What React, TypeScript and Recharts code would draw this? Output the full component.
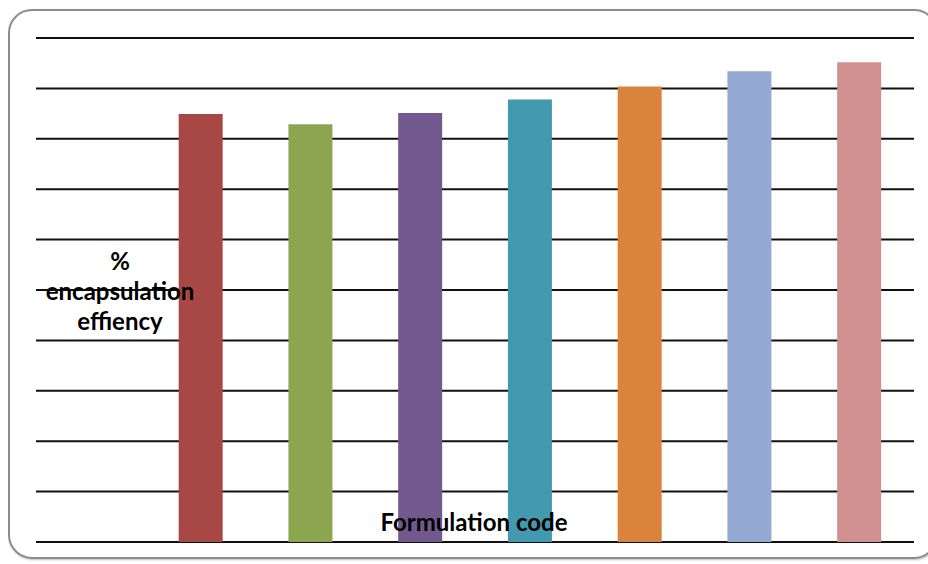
import { BarChart, Bar, Cell, CartesianGrid, XAxis, YAxis } from "recharts";

const codes = ["", "F1", "F2", "F3", "F4", "F5", "F6", "F7"];
const efficiency: (number | null)[] = [null, 84.9, 82.9, 85.1, 87.8, 90.4, 93.4, 95.2];
const barColors = ["#ffffff", "#A84845", "#8BA64F", "#71598E", "#4299B0", "#DA833D", "#93A9D1", "#D19090"];
const yTicks = [0, 10, 20, 30, 40, 50, 60, 70, 80, 90, 100];

const data = codes.map((code, i) => ({ code, value: efficiency[i] }));

const labelFont = "Lato, 'Open Sans', sans-serif";

export default function App() {
  return (
    <div
      style={{
        position: "absolute",
        left: 0,
        top: 0,
        width: 928,
        height: 564,
        background: "#fff",
        overflow: "hidden",
      }}
    >
      <div
        style={{
          position: "absolute",
          left: 8,
          top: 9,
          width: 930,
          height: 550,
          border: "2px solid #8c8c8c",
          borderRadius: 24,
          boxSizing: "border-box",
          boxShadow: "1px 1px 2px rgba(0,0,0,0.25)",
        }}
      />
      <div style={{ position: "absolute", left: 0, top: 0 }}>
        <BarChart
          width={928}
          height={564}
          data={data}
          margin={{ top: 38, right: 14, bottom: 22, left: 36 }}
          barCategoryGap="30%"
        >
          <CartesianGrid vertical={false} stroke="#111" strokeWidth={2} />
          <XAxis dataKey="code" hide />
          <YAxis
            domain={[0, 100]}
            ticks={yTicks}
            interval={0}
            width={0}
            tick={{ fill: "transparent", fontSize: 1 }}
            tickLine={false}
            axisLine={false}
          />
          <Bar dataKey="value" isAnimationActive={false}>
            {data.map((d, i) => (
              <Cell key={d.code + i} fill={barColors[i]} />
            ))}
          </Bar>
        </BarChart>
      </div>
      <div
        style={{
          position: "absolute",
          left: 20,
          top: 246,
          width: 200,
          textAlign: "center",
          fontFamily: labelFont,
          fontWeight: 700,
          fontSize: 24,
          lineHeight: "30px",
          color: "#000",
        }}
      >
        %<br />
        encapsulation
        <br />
        effiency
      </div>
      <div
        style={{
          position: "absolute",
          left: 324,
          top: 507,
          width: 300,
          textAlign: "center",
          fontFamily: labelFont,
          fontWeight: 700,
          fontSize: 24,
          lineHeight: "30px",
          color: "#000",
        }}
      >
        Formulation code
      </div>
    </div>
  );
}
